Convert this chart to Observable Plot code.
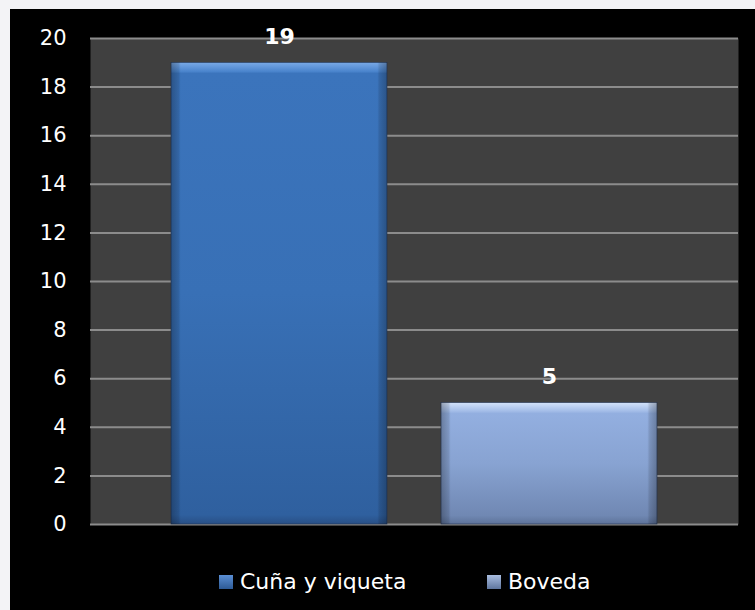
<!DOCTYPE html>
<html>
<head>
<meta charset="utf-8">
<script src="https://cdn.jsdelivr.net/npm/d3@7"></script>
<script src="https://cdn.jsdelivr.net/npm/@observablehq/plot@0.6"></script>
<style>
  html, body { margin: 0; padding: 0; background: #f3f3f6; width: 755px; height: 610px; overflow: hidden; }
  #wrap { position: absolute; left: 10px; top: 9px; width: 745px; height: 601px; background: #000; }
  #legend { position: absolute; left: 0; top: 545px; width: 745px; height: 56px; font-family: "DejaVu Sans", sans-serif; font-size: 22px; color: #fff; }
  .item { position: absolute; top: 15px; display: flex; align-items: center; }
  .sw { width: 14px; height: 14px; margin-right: 7px; }
</style>
</head>
<body>
<div id="wrap">
  <div id="chart"></div>
  <div id="legend"></div>
</div>
<script>
const categories = ["Cuña y viqueta", "Boveda"];
const values = [19, 5];
const yTicks = [0, 2, 4, 6, 8, 10, 12, 14, 16, 18, 20];
const gradIds = ["g1", "g2"];

const data = categories.map((c, i) => ({cat: c, value: values[i], fill: `url(#${gradIds[i]})`}));

const chart = Plot.plot({
  width: 745,
  height: 545,
  marginTop: 29,
  marginBottom: 30,
  marginLeft: 80,
  marginRight: 17,
  style: {background: "#000", color: "#fff", fontFamily: "DejaVu Sans, sans-serif"},
  x: {domain: categories, paddingInner: 0.2, paddingOuter: 0.3, axis: null},
  y: {domain: [0, 20], ticks: yTicks, axis: null},
  marks: [
    Plot.frame({fill: "#404040", stroke: null}),
    Plot.ruleY(yTicks, {stroke: "#8c8c8c", strokeWidth: 2}),
    Plot.axisY({ticks: yTicks, tickSize: 0, tickPadding: 24, fontSize: 21, fill: "#fff", label: null, tickFormat: d => String(d)}),
    Plot.barY(data, {x: "cat", y: "value", fill: "fill", stroke: "#1f2f4d", strokeWidth: 0.6}),
    Plot.barY(data, {x: "cat", y: "value", fill: "url(#edge)"}),
    Plot.text(data, {x: "cat", y: "value", text: d => String(d.value), dy: -26, fontSize: 22, fontWeight: "bold", fill: "#fff"})
  ]
});

// gradient definitions for the bevelled bars
const svg = d3.select(chart);
const defs = svg.insert("defs", ":first-child");
const g1 = defs.append("linearGradient").attr("id", "g1").attr("x1", 0).attr("y1", 0).attr("x2", 0).attr("y2", 1);
[[0, "#7aaae6"], [0.012, "#5d93d8"], [0.02, "#4a84cc"], [0.024, "#3b74bc"], [0.5, "#3870b6"], [0.98, "#2f609f"], [1, "#284f85"]].forEach(([o, c]) => g1.append("stop").attr("offset", o).attr("stop-color", c));
const g2 = defs.append("linearGradient").attr("id", "g2").attr("x1", 0).attr("y1", 0).attr("x2", 0).attr("y2", 1);
[[0, "#d4e3fa"], [0.04, "#b8cdf0"], [0.07, "#a4bde8"], [0.09, "#93afe0"], [0.5, "#88a3d2"], [0.93, "#7088b3"], [1, "#5d7299"]].forEach(([o, c]) => g2.append("stop").attr("offset", o).attr("stop-color", c));
const edge = defs.append("linearGradient").attr("id", "edge").attr("x1", 0).attr("y1", 0).attr("x2", 1).attr("y2", 0);
[[0, 0.28], [0.035, 0.12], [0.045, 0], [0.955, 0], [0.965, 0.12], [1, 0.28]].forEach(([o, a]) => edge.append("stop").attr("offset", o).attr("stop-color", "#000").attr("stop-opacity", a));

document.getElementById("chart").appendChild(chart);

// legend
const legend = document.getElementById("legend");
const swatchColors = ["linear-gradient(#5b8fd4, #2d5a96)", "linear-gradient(#a9bde0, #5f769e)"];
const legendX = [209, 477];
categories.forEach((c, i) => {
  const it = document.createElement("div");
  it.className = "item";
  it.style.left = legendX[i] + "px";
  const sw = document.createElement("div");
  sw.className = "sw";
  sw.style.background = swatchColors[i];
  const t = document.createElement("span");
  t.textContent = c;
  it.appendChild(sw);
  it.appendChild(t);
  legend.appendChild(it);
});
</script>
</body>
</html>
